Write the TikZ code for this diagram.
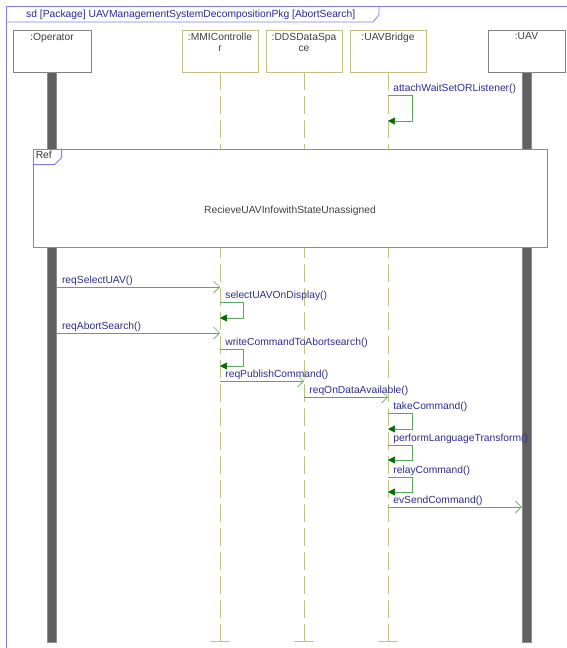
\documentclass[tikz,border=0pt]{standalone}
\usepackage{fontspec}
\setmainfont{Liberation Sans}
\usetikzlibrary{positioning,arrows.meta}
\definecolor{framec}{RGB}{128,128,226}
\definecolor{titlec}{RGB}{40,40,150}
\definecolor{khaki}{RGB}{192,192,135}
\definecolor{msgc}{RGB}{95,165,95}
\definecolor{tipc}{RGB}{0,110,0}
\definecolor{greyc}{RGB}{130,130,130}
\definecolor{txtc}{RGB}{45,45,140}
\begin{document}
\begin{tikzpicture}[
  x=1pt, y=-1pt,
  font=\fontsize{10.3}{11.5}\selectfont,
  head/.style={rectangle, draw=#1, fill=white, line width=0.7pt, minimum width=76pt, minimum height=42pt, inner sep=0pt},
  headtxt/.style={anchor=north, align=center, text=black!75, inner sep=2pt, yshift=-1pt},
  bar/.style={rectangle, fill=black!62, draw=black!45, minimum width=9pt, minimum height=570pt, inner sep=0pt, anchor=north},
  lifeline/.style={draw=khaki, line width=0.8pt, dash pattern=on 18pt off 6pt},
  msg/.style={draw=msgc, line width=0.7pt, -{Straight Barb[length=6pt,width=12pt]}},
  selfmsg/.style={draw=msgc, line width=0.7pt, -{Triangle[length=7pt,width=7pt,color=tipc]}},
  lbl/.style={text=txtc, anchor=base west, inner sep=0pt, xshift=5pt, yshift=4pt},
  framebox/.style={draw=framec, line width=0.8pt}
]
  \useasboundingbox (0,0) rectangle (567,648);
  \coordinate (lend) at (0,641);

  % diagram frame
  \draw[framebox] (6,648) -- (6,6) -- (567,6);
  \node[anchor=base west, text=titlec, inner sep=0pt] (title) at (26,17.5)
    {sd [Package] UAVManagementSystemDecompositionPkg [AbortSearch]};
  \draw[framebox] (6,22) -- (373,22) -- (379,15) -- (379,6);

  % lifeline heads
  \node[head=greyc, minimum width=78pt, label={[headtxt]north:{:Operator}}] (op) at (52,51) {};
  \node[head=khaki, label={[headtxt]north:{:MMIControlle\\r}}] (mmi) at (220,51) {};
  \node[head=khaki, label={[headtxt]north:{:DDSDataSpa\\ce}}] (dds) at (304,51) {};
  \node[head=khaki, label={[headtxt]north:{:UAVBridge}}] (brg) at (388,51) {};
  \node[head=greyc, minimum width=77pt, label={[headtxt]north:{:UAV}}] (uav) at (526.5,51) {};

  % lifelines
  \node[bar] (opbar) at (op.south) {};
  \node[bar] (uavbar) at (uav.south) {};
  \foreach \n in {mmi,dds,brg} {
    \draw[lifeline] (\n.south) -- (\n.south |- lend);
    \draw[draw=khaki, line width=0.8pt] ([xshift=-10pt]\n.south |- lend) -- ([xshift=10pt]\n.south |- lend);
  }

  % messages
  \draw[selfmsg] (brg.south |- 0,95) node[lbl] {attachWaitSetORListener()}
    -- ++(24,0) -- ++(0,26) -- ++(-24,0);

  % interaction reference
  \node[framebox, fill=white, minimum width=514pt, minimum height=98pt] (ref) at (290,198) {};
  \node[text=black!75] (reftxt) at ([yshift=-13pt]ref.center) {RecieveUAVInfowithStateUnassigned};
  \node[anchor=north west, inner sep=2pt, text=black!80, xshift=1pt] (reftag) at (ref.north west) {Ref};
  \draw[framebox] (ref.north west) ++(0,16) -- ++(22,0) -- ++(7,-7) -- ++(0,-9);

  \draw[msg] (opbar.east |- 0,287) -- (mmi.south |- 0,287) node[lbl, pos=0] {reqSelectUAV()};
  \draw[selfmsg] (mmi.south |- 0,302) node[lbl] {selectUAVOnDisplay()}
    -- ++(23,0) -- ++(0,16) -- ++(-23,0);
  \draw[msg] (opbar.east |- 0,333) -- (mmi.south |- 0,333) node[lbl, pos=0] {reqAbortSearch()};
  \draw[selfmsg] (mmi.south |- 0,349) node[lbl] {writeCommandToAbortsearch()}
    -- ++(23,0) -- ++(0,17) -- ++(-23,0);
  \draw[msg] (mmi.south |- 0,381) -- (dds.south |- 0,381) node[lbl, pos=0] {reqPublishCommand()};
  \draw[msg] (dds.south |- 0,397) -- (brg.south |- 0,397) node[lbl, pos=0] {reqOnDataAvailable()};
  \draw[selfmsg] (brg.south |- 0,413) node[lbl] {takeCommand()}
    -- ++(24,0) -- ++(0,16) -- ++(-24,0);
  \draw[selfmsg] (brg.south |- 0,445) node[lbl] {performLanguageTransform()}
    -- ++(24,0) -- ++(0,15) -- ++(-24,0);
  \draw[selfmsg] (brg.south |- 0,477) node[lbl] {relayCommand()}
    -- ++(24,0) -- ++(0,15) -- ++(-24,0);
  \draw[msg] (brg.south |- 0,507) -- (uavbar.west |- 0,507) node[lbl, pos=0] {evSendCommand()};
\end{tikzpicture}
\end{document}
